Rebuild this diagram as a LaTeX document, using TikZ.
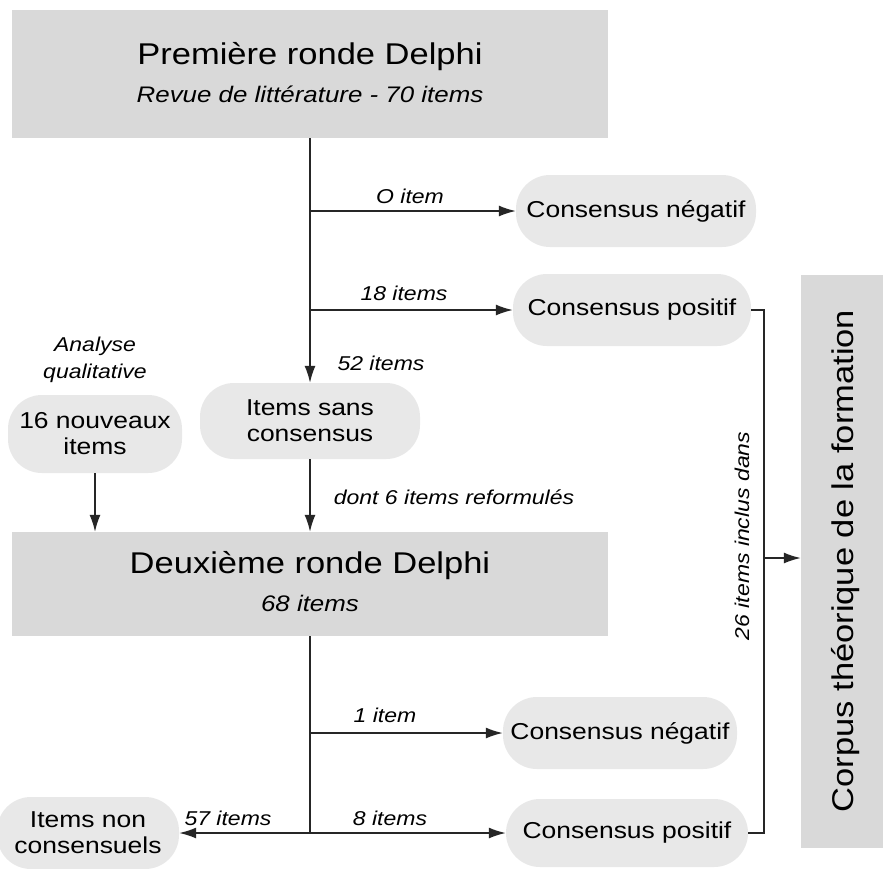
\documentclass[tikz,border=0pt]{standalone}
\usepackage{fontspec}
\setmainfont{Liberation Sans}[FakeStretch=1.15]
\usetikzlibrary{arrows.meta,shapes.geometric}
\begin{document}
\begin{tikzpicture}[x=1pt,y=-1pt,
  bigbox/.style={fill=boxgray,draw=none,minimum width=596pt,align=center,inner sep=0pt},
  blob/.style={fill=blobgray,draw=none,rounded corners=34pt,align=center,inner sep=0pt,font=\fontsize{23}{26}\selectfont},
  lbl/.style={font=\fontsize{20}{23}\selectfont\itshape,inner sep=1pt},
  conn/.style={line width=1.6pt,draw=black!85},
  arr/.style={conn,-{Latex[length=17pt,width=11pt]}}]
\definecolor{boxgray}{HTML}{D9D9D9}
\definecolor{blobgray}{HTML}{E8E8E8}
\useasboundingbox (0,0) rectangle (884,868);
\fill[white] (0,0) rectangle (884,868);
% top box
\node[bigbox,minimum height=128pt] (r1) at (310,74) {};
\node[font=\fontsize{30}{33}\selectfont] (r1t) at (310,57) {Première ronde Delphi};
\node[font=\fontsize{22.5}{25}\selectfont\itshape] (r1s) at (310,94) {Revue de littérature - 70 items};
% blobs round 1
\node[blob,minimum width=240pt,minimum height=72pt] (neg1) at (636,211) {Consensus négatif};
\node[blob,minimum width=238pt,minimum height=72pt] (pos1) at (632,310) {Consensus positif};
\node[blob,minimum width=220pt,minimum height=76pt] (sans) at (310,421) {Items sans\\consensus};
\node[blob,minimum width=174pt,minimum height=78pt] (nouv) at (95,434) {16 nouveaux\\items};
\node[lbl,align=center,font=\fontsize{20}{27}\selectfont\itshape] (anal) at (95,360) {Analyse\\qualitative};
% second box
\node[bigbox,minimum height=104pt] (r2) at (310,584) {};
\node[font=\fontsize{30}{33}\selectfont] (r2t) at (310,566) {Deuxième ronde Delphi};
\node[font=\fontsize{22.5}{25}\selectfont\itshape] (r2s) at (310,603) {68 items};
% blobs round 2
\node[blob,minimum width=234pt,minimum height=72pt] (neg2) at (620,733) {Consensus négatif};
\node[blob,minimum width=242pt,minimum height=68pt] (pos2) at (627,833) {Consensus positif};
\node[blob,minimum width=182pt,minimum height=72pt] (nonc) at (88,833) {Items non\\consensuels};
% right box
\node[fill=boxgray,minimum width=82pt,minimum height=573pt,inner sep=0pt] (corp) at (842,561) {};
\node[rotate=90,font=\fontsize{30}{33}\selectfont] (corpt) at (846,561) {Corpus théorique de la formation};
% coordinates
\coordinate (b1) at (310,211);
\coordinate (b2) at (310,310);
\coordinate (b3) at (310,733);
\coordinate (b4) at (310,833);
\coordinate (brk) at (764,558);
% connectors round 1
\draw[conn] (r1.south -| b1) -- (b2);
\draw[arr] (b2) -- (sans.north);
\draw[arr] (b1) -- (neg1.west);
\draw[arr] (b2) -- (pos1.west);
\draw[arr] (sans.south) -- (r2.north -| sans);
\draw[arr] (nouv.south) -- (r2.north -| nouv);
% connectors round 2
\draw[conn] (r2.south -| b3) -- (b4);
\draw[arr] (b3) -- (neg2.west);
\draw[arr] (b4) -- (pos2.west);
\draw[arr] (b4) -- (nonc.east);
% bracket
\draw[conn] (pos1.east) -- (pos1.east -| brk) -- (pos2.east -| brk) -- (pos2.east);
\draw[arr] (brk) -- (corp.west |- brk);
% labels
\node[lbl] (l0) at (410,196) {O item};
\node[lbl] (l18) at (404,293) {18 items};
\node[lbl] (l52) at (381,363) {52 items};
\node[lbl] (ldont) at (454,497) {dont 6 items reformulés};
\node[lbl] (l1) at (385,715) {1 item};
\node[lbl] (l8) at (390,818) {8 items};
\node[lbl] (l57) at (228,818) {57 items};
\node[lbl,rotate=90] (l26) at (742,536) {26 items inclus dans};
\end{tikzpicture}
\end{document}
